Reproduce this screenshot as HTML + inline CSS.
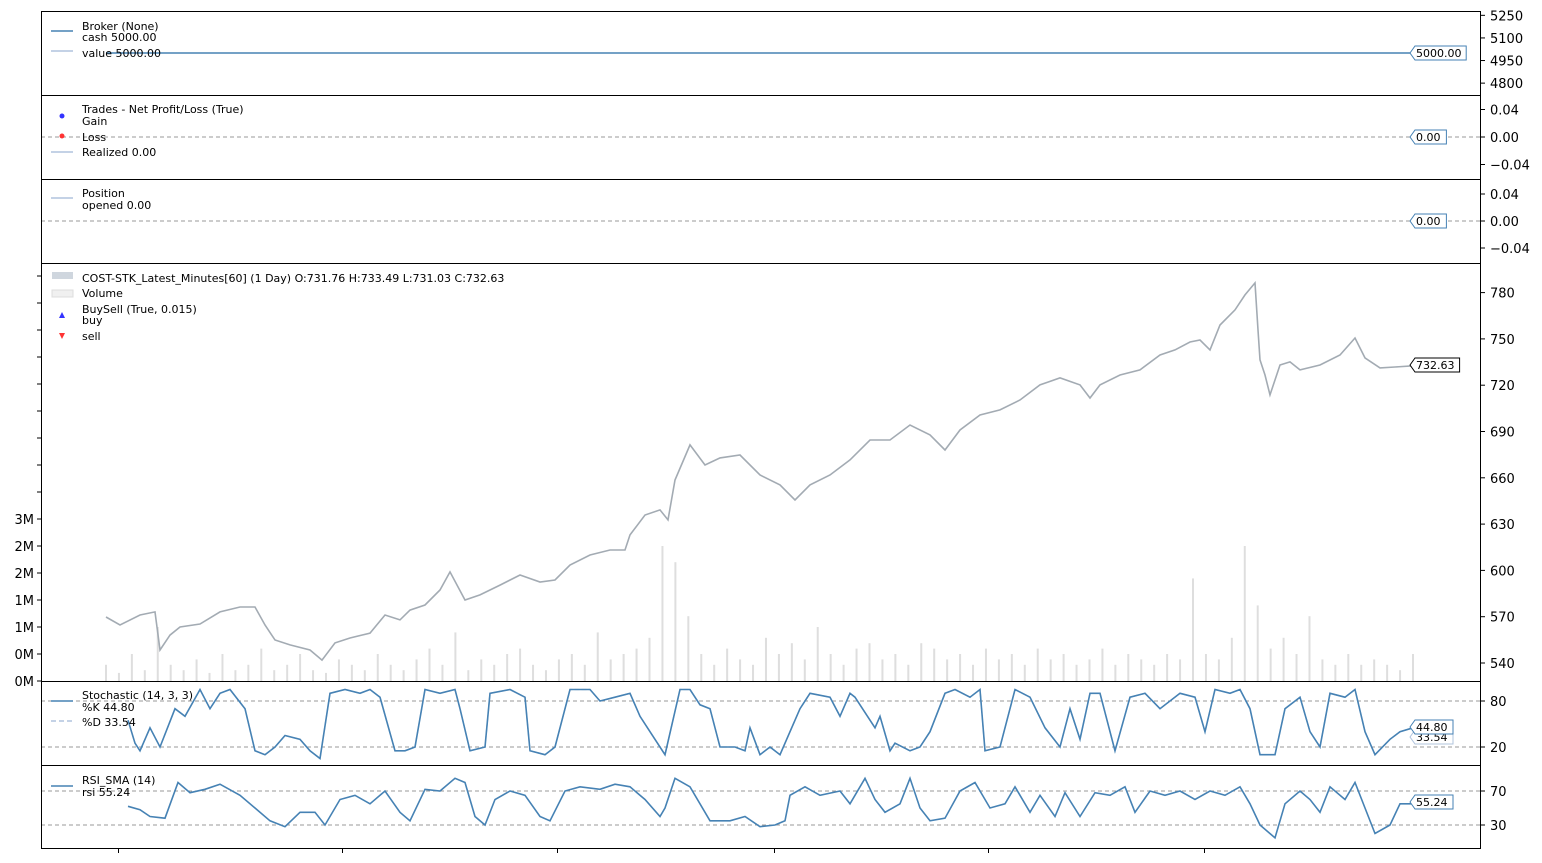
<!DOCTYPE html>
<html><head><meta charset="utf-8"><style>
body{margin:0;background:#fff;}
svg{display:block;font-family:"DejaVu Sans","Liberation Sans",sans-serif;}
.tk{font-size:13px;fill:#000;}
.lg{font-size:11px;fill:#000;}
</style></head><body>
<svg id="c" width="1542" height="863"></svg>
<script>
// ---- data ----
const priceBars=[0,14,34,49,54,64,74,94,114,134,149,159,169,184,204,216,229,244,264,279,294,304,319,334,344,359,374,394,414,434,449,464,484,504,519,524,539,554,562,569,584,599,614,634,654,674,689,704,724,744,764,784,804,824,839,854,874,894,914,934,954,974,984,994,1014,1034,1054,1069,1084,1094,1104,1114,1129,1139,1149,1152,1154,1159,1164,1174,1184,1194,1214,1234,1249,1259,1274,1289,1307];
const priceVals=[569.8,564.6,571.1,573.1,548.4,558.1,563.3,565.3,573.1,576.3,576.3,564.6,554.9,551.7,548.4,541.9,553,556.2,559.4,571.1,567.9,574.3,577.6,587.3,599,580.8,584.1,590.5,597,592.5,593.8,603.5,610,613.2,613.2,623,635.9,639.2,632.7,658.6,681.3,668.3,672.9,674.8,661.8,655.4,645.6,655.4,661.8,671.6,684.5,684.5,694.2,687.8,678,691,700.7,704,710.4,720.2,724.7,720.2,711.7,720.2,726.6,729.9,739.6,742.9,748,749.3,742.9,759,768.8,778.5,786.3,755.8,736.4,726.6,713.7,733.1,735.1,729.9,733.1,739.6,750.6,737.7,731.2,731.8,732.6];
const volVals=[0.3,0.15,0.5,0.2,1.0,0.3,0.2,0.4,0.15,0.5,0.2,0.3,0.6,0.2,0.3,0.5,0.2,0.15,0.4,0.3,0.2,0.5,0.3,0.2,0.4,0.6,0.3,0.9,0.2,0.4,0.3,0.5,0.6,0.3,0.2,0.4,0.5,0.3,0.9,0.4,0.5,0.6,0.8,2.5,2.2,1.2,0.5,0.3,0.6,0.4,0.3,0.8,0.5,0.7,0.4,1.0,0.5,0.3,0.6,0.7,0.4,0.5,0.3,0.7,0.6,0.4,0.5,0.3,0.6,0.4,0.5,0.3,0.6,0.4,0.5,0.3,0.4,0.6,0.3,0.5,0.4,0.3,0.5,0.4,1.9,0.5,0.4,0.8,2.5,1.4,0.6,0.8,0.5,1.2,0.4,0.3,0.5,0.3,0.4,0.3,0.2,0.5];
const stochBars=[22,29,34,44,54,69,79,94,104,114,124,139,149,159,169,179,194,204,214,224,239,254,264,274,289,299,309,319,334,349,354,364,379,384,404,419,424,439,449,464,484,494,509,524,534,544,559,574,584,594,604,614,629,639,644,654,664,674,684,694,704,724,734,744,749,769,774,784,789,804,814,824,839,849,864,874,879,894,909,924,939,954,964,974,984,994,1009,1024,1039,1054,1074,1089,1099,1109,1124,1134,1144,1154,1169,1179,1194,1204,1214,1224,1239,1249,1259,1269,1284,1294,1307];
const stochK=[55,25,15,45,20,70,60,95,70,90,95,70,15,10,20,35,30,15,5,90,95,90,95,85,15,15,20,95,90,95,70,15,20,90,95,85,15,10,20,95,95,80,85,90,60,40,10,95,95,75,70,20,20,15,45,10,20,10,40,70,90,85,60,90,85,45,60,15,25,15,20,40,90,95,85,95,15,20,95,85,45,20,70,30,90,90,15,85,90,70,90,85,40,95,90,95,70,10,10,70,85,40,20,90,85,95,40,10,30,40,45];
const rsiBars=[22,34,44,59,72,84,99,114,134,149,164,179,194,209,219,234,249,264,279,294,304,319,334,349,359,369,379,389,404,419,434,444,459,474,494,509,524,539,554,559,569,584,604,624,639,654,669,679,684,699,714,734,744,759,769,779,794,804,814,824,839,854,869,884,899,909,924,934,949,959,974,989,1004,1019,1029,1044,1059,1074,1089,1104,1119,1134,1144,1154,1169,1179,1194,1204,1214,1224,1239,1249,1259,1269,1284,1294,1307];
const rsiVals=[52,48,40,38,80,68,72,78,65,50,35,28,45,45,30,60,65,55,70,45,35,72,70,85,80,40,30,60,70,65,40,35,70,75,72,78,75,60,40,50,85,75,35,35,40,28,30,35,65,75,65,70,55,85,60,45,55,85,50,35,38,70,80,50,55,75,45,65,40,68,40,68,65,75,45,70,65,70,60,70,65,75,55,30,15,55,70,60,45,75,60,80,50,20,30,55,55];
const priceTicks=[540,570,600,630,660,690,720,750,780];
const volTicks=[0,0.5,1,1.5,2,2.5,3];
const volTickLabels=["0M","0M","1M","1M","2M","2M","3M"];
const brokerTicks=[4800,4950,5100,5250];
const zeroTicks=[-0.04,0,0.04];
const xTicks=[12,236,451,668,882,1098];

// ---- scales ----
const L=41,R=1481,X0=106;
const bx=b=>X0+b;
const py=p=>663-(p-540)*46.3/30;
const vy=v=>681-v*54;
const sy=v=>747-(v-20)*46/60;
const ry=v=>825-(v-30)*0.85;
const by=v=>53-(v-5000)*22.6/150;
const zy1=v=>137-v*27.5/0.04;
const zy2=v=>221-v*27/0.04;

const svg=document.getElementById('c');
const NS='http://www.w3.org/2000/svg';
function mk(t,a,parent){const e=document.createElementNS(NS,t);for(const k in a)e.setAttribute(k,a[k]);(parent||svg).appendChild(e);return e;}
function txt(x,y,s,cls,anchor){const e=mk('text',{x:x,y:y,class:cls,'text-anchor':anchor||'start'});e.textContent=s;return e;}

const panels=[[11,95,'broker-panel'],[95,179,'trades-panel'],[179,263,'position-panel'],[263,681,'price-panel'],[681,765,'stochastic-panel'],[765,848,'rsi-panel']];

const step=(1307)/(volVals.length-1);
volVals.forEach((v,i)=>{
  const x=X0+i*step;
  const r=mk('rect',{x:x-1,y:vy(v),width:2,height:681-vy(v),fill:'#dedede'});
  
  
});

function line(bars,vals,f,attrs,name){
  const d=bars.map((b,i)=>(i?'L':'M')+bx(b).toFixed(1)+' '+f(vals[i]).toFixed(1)).join('');
  const p=mk('path',Object.assign({d:d,fill:'none'},attrs));
  
  
  return p;
}
function hdash(y,name){const l=mk('line',{x1:L,x2:R,y1:y,y2:y,stroke:'#999','stroke-dasharray':'4,3','stroke-width':1});}

const bl=mk('line',{x1:bx(0),x2:bx(1307),y1:by(5000),y2:by(5000),stroke:'#4682b4','stroke-width':1.5});

hdash(zy1(0),'trades-zero-line');hdash(zy2(0),'position-zero-line');
line(priceBars,priceVals,py,{stroke:'#a3abb3','stroke-width':1.6},'price-line');
hdash(sy(80),'stoch-80-line');hdash(sy(20),'stoch-20-line');
line(stochBars,stochK,sy,{stroke:'#b0c4de','stroke-width':1.3,'stroke-dasharray':'5,2'},'stoch-d-line');
line(stochBars,stochK,sy,{stroke:'#4682b4','stroke-width':1.6},'stoch-k-line');
hdash(ry(70),'rsi-70-line');hdash(ry(30),'rsi-30-line');
line(rsiBars,rsiVals,ry,{stroke:'#4682b4','stroke-width':1.6},'rsi-line');

panels.forEach(p=>{const r=mk('rect',{x:L+0.5,y:p[0]+0.5,width:R-L-1,height:p[1]-p[0],fill:'none',stroke:'#000','stroke-width':1});});

function rtick(y,s){mk('line',{x1:R,x2:R+4,y1:y,y2:y,stroke:'#000'});txt(R+9,y+5,s,'tk');}
brokerTicks.forEach(v=>rtick(by(v),String(v)));
zeroTicks.forEach(v=>rtick(zy1(v),v.toFixed(2).replace('-','−')));
zeroTicks.forEach(v=>rtick(zy2(v),v.toFixed(2).replace('-','−')));
priceTicks.forEach(v=>rtick(py(v),String(v)));
[20,80].forEach(v=>rtick(sy(v),String(v)));
[30,70].forEach(v=>rtick(ry(v),String(v)));
volTicks.forEach((v,i)=>{const y=vy(v);mk('line',{x1:L-4,x2:L,y1:y,y2:y,stroke:'#000'});txt(L-7,y+5,volTickLabels[i],'tk','end');});
for(let y=492;y>263;y-=27){mk('line',{x1:L-4,x2:L,y1:y,y2:y,stroke:'#000'});}
xTicks.forEach(b=>mk('line',{x1:bx(b)+0.5,x2:bx(b)+0.5,y1:848,y2:853,stroke:'#000'}));

function tag(y,s,color,name){
  const w=s.length*6.6+10,x=1410;
  const g=mk('g',{});
  mk('path',{d:`M${x} ${y} L${x+5} ${y-7} L${x+w} ${y-7} L${x+w} ${y+7} L${x+5} ${y+7}Z`,fill:'#fff',stroke:color,'stroke-width':1},g);
  const t=mk('text',{x:x+6,y:y+4,class:'lg'},g);t.textContent=s;
}
tag(by(5000),'5000.00','#4682b4','cash-value-tag');
tag(zy1(0),'0.00','#4682b4','trades-value-tag');
tag(zy2(0),'0.00','#4682b4','position-value-tag');
tag(365,'732.63','#000','price-value-tag');
tag(737,'33.54','#b0c4de','stoch-d-tag');
tag(727,'44.80','#4682b4','stoch-k-tag');
tag(802,'55.24','#4682b4','rsi-value-tag');

function lgLine(y,color,dash){mk('line',{x1:51,x2:73,y1:y,y2:y,stroke:color,'stroke-width':1.5,'stroke-dasharray':dash||'none'});}
lgLine(31,'#4682b4');txt(82,30,'Broker (None)','lg');txt(82,41,'cash 5000.00','lg');
lgLine(51,'#b0c4de');txt(82,57,'value 5000.00','lg');
mk('circle',{cx:62,cy:116,r:2.5,fill:'#3333ff'});txt(82,113,'Trades - Net Profit/Loss (True)','lg');txt(82,125,'Gain','lg');
mk('circle',{cx:62,cy:136,r:2.5,fill:'#ff3333'});txt(82,141,'Loss','lg');
lgLine(152,'#b0c4de');txt(82,156,'Realized 0.00','lg');
lgLine(198,'#b0c4de');txt(82,197,'Position','lg');txt(82,209,'opened 0.00','lg');
mk('rect',{x:52,y:272,width:21,height:7,fill:'#cfd6de'});txt(82,282,'COST-STK_Latest_Minutes[60] (1 Day) O:731.76 H:733.49 L:731.03 C:732.63','lg');
mk('rect',{x:52,y:290,width:21,height:7,fill:'#f0f0f0',stroke:'#ddd'});txt(82,297,'Volume','lg');
mk('path',{d:'M59 318 L62 312 L65 318Z',fill:'#3333ff'});txt(82,313,'BuySell (True, 0.015)','lg');txt(82,324,'buy','lg');
mk('path',{d:'M59 333 L65 333 L62 339Z',fill:'#ff3333'});txt(82,340,'sell','lg');
lgLine(701,'#4682b4');txt(82,699,'Stochastic (14, 3, 3)','lg');txt(82,711,'%K 44.80','lg');
lgLine(721,'#b0c4de','5,3');txt(82,726,'%D 33.54','lg');
lgLine(786,'#4682b4');txt(82,784,'RSI_SMA (14)','lg');txt(82,796,'rsi 55.24','lg');
</script>
</body></html>
